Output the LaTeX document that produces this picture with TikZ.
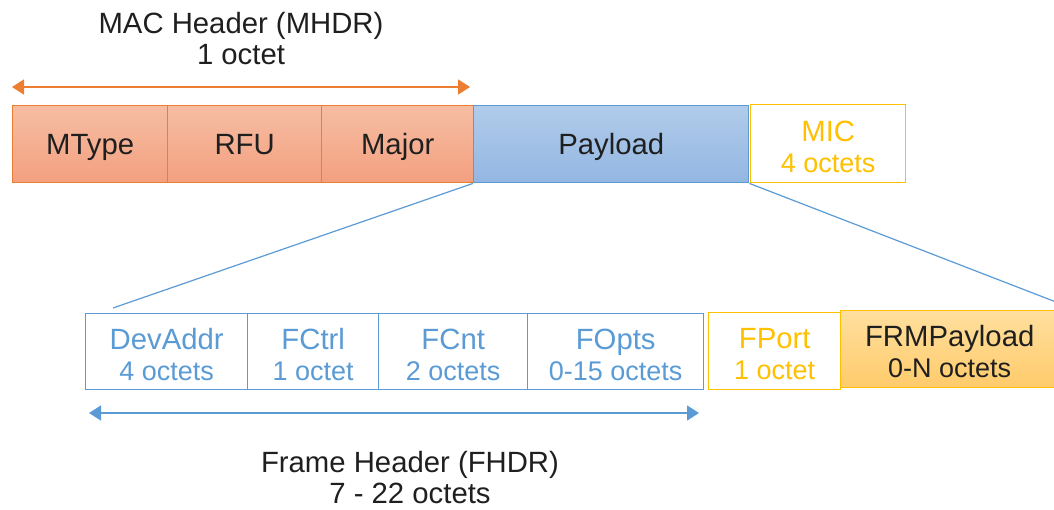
\documentclass[tikz,border=0pt]{standalone}
\usepackage{fontspec}
\setmainfont{Liberation Sans}
\usetikzlibrary{arrows.meta}
\definecolor{txt}{HTML}{1F1F1F}
\definecolor{orline}{HTML}{ED7D31}
\definecolor{ortop}{HTML}{F6BDA3}
\definecolor{orbot}{HTML}{F3A07F}
\definecolor{blline}{HTML}{5B9BD5}
\definecolor{bltop}{HTML}{B1CCEA}
\definecolor{blbot}{HTML}{93B6E2}
\definecolor{yeline}{HTML}{FFC000}
\definecolor{yetop}{HTML}{FFDF9E}
\definecolor{yebot}{HTML}{FFCB6B}
% smaller size for the octet counts inside the fields
\newcommand\octsize{\fontsize{27}{31}\selectfont}
\tikzset{
  field/.style={draw, line width=1.4pt, anchor=north west, inner sep=0pt,
    font=\fontsize{29.3}{31}\selectfont, align=center, text=txt},
  oneline/.style={text height=27pt, text depth=6pt},
  twoline/.style={text height=57.5pt, text depth=0pt},
  macfield/.style={field, oneline, draw=orline, top color=ortop, bottom color=orbot},
  payfield/.style={field, oneline, draw=blline, top color=bltop, bottom color=blbot},
  blfield/.style={field, twoline, draw=blline, fill=white, text=blline},
  yefield/.style={field, twoline, draw=yeline, fill=white, text=yeline},
  frmfield/.style={field, twoline, draw=yeline, top color=yetop, bottom color=yebot},
  caption/.style={font=\fontsize{29.3}{31}\selectfont, align=center, text=txt},
  span/.style={line width=1.6pt, {Triangle[length=12pt,width=15pt]}-{Triangle[length=12pt,width=15pt]}},
  zoomline/.style={draw=blline, line width=1.2pt}
}
\begin{document}
\begin{tikzpicture}[x=1pt,y=-1pt]
\useasboundingbox (0,0) rectangle (1054,509);

% MAC frame
\node[caption] (mhdrlbl) at (241,39) {MAC Header (MHDR)\\1 octet};
\coordinate (mhdrL) at (12,87);
\coordinate (mhdrR) at (470,87);
\draw[span, orline] (mhdrL) -- (mhdrR);

\node[macfield, minimum width=155pt, minimum height=77pt] (mtype) at (12,105) {MType};
\node[macfield, minimum width=154pt, minimum height=77pt] (rfu) at (167,105) {RFU};
\node[macfield, minimum width=152pt, minimum height=77pt] (major) at (321,105) {Major};
\node[payfield, minimum width=275pt, minimum height=77pt] (payload) at (473,105) {Payload};
\node[yefield, minimum width=155pt, minimum height=78pt] (mic) at (750,104) {MIC\\\octsize 4 octets};

% Expansion of the payload
\coordinate (zl) at (113,308);
\coordinate (zr) at (1056,302);
\draw[zoomline] (payload.south west) -- (zl);
\draw[zoomline] (payload.south east) -- (zr);

% MAC payload fields
\node[blfield, minimum width=162pt, minimum height=76pt] (devaddr) at (85,313) {DevAddr\\\octsize 4 octets};
\node[blfield, minimum width=131pt, minimum height=76pt] (fctrl) at (247,313) {FCtrl\\\octsize 1 octet};
\node[blfield, minimum width=149pt, minimum height=76pt] (fcnt) at (378,313) {FCnt\\\octsize 2 octets};
\node[blfield, minimum width=176pt, minimum height=76pt] (fopts) at (527,313) {FOpts\\\octsize 0-15 octets};
\node[yefield, minimum width=132pt, minimum height=77pt] (fport) at (708,312) {FPort\\\octsize 1 octet};
\node[frmfield, minimum width=218pt, minimum height=77pt] (frm) at (840,310) {FRMPayload\\\octsize 0-N octets};

% Frame header span
\coordinate (fhdrL) at (89,413);
\coordinate (fhdrR) at (699,413);
\draw[span, blline] (fhdrL) -- (fhdrR);
\node[caption] (fhdrlbl) at (410,478) {Frame Header (FHDR)\\7 - 22 octets};
\end{tikzpicture}
\end{document}
